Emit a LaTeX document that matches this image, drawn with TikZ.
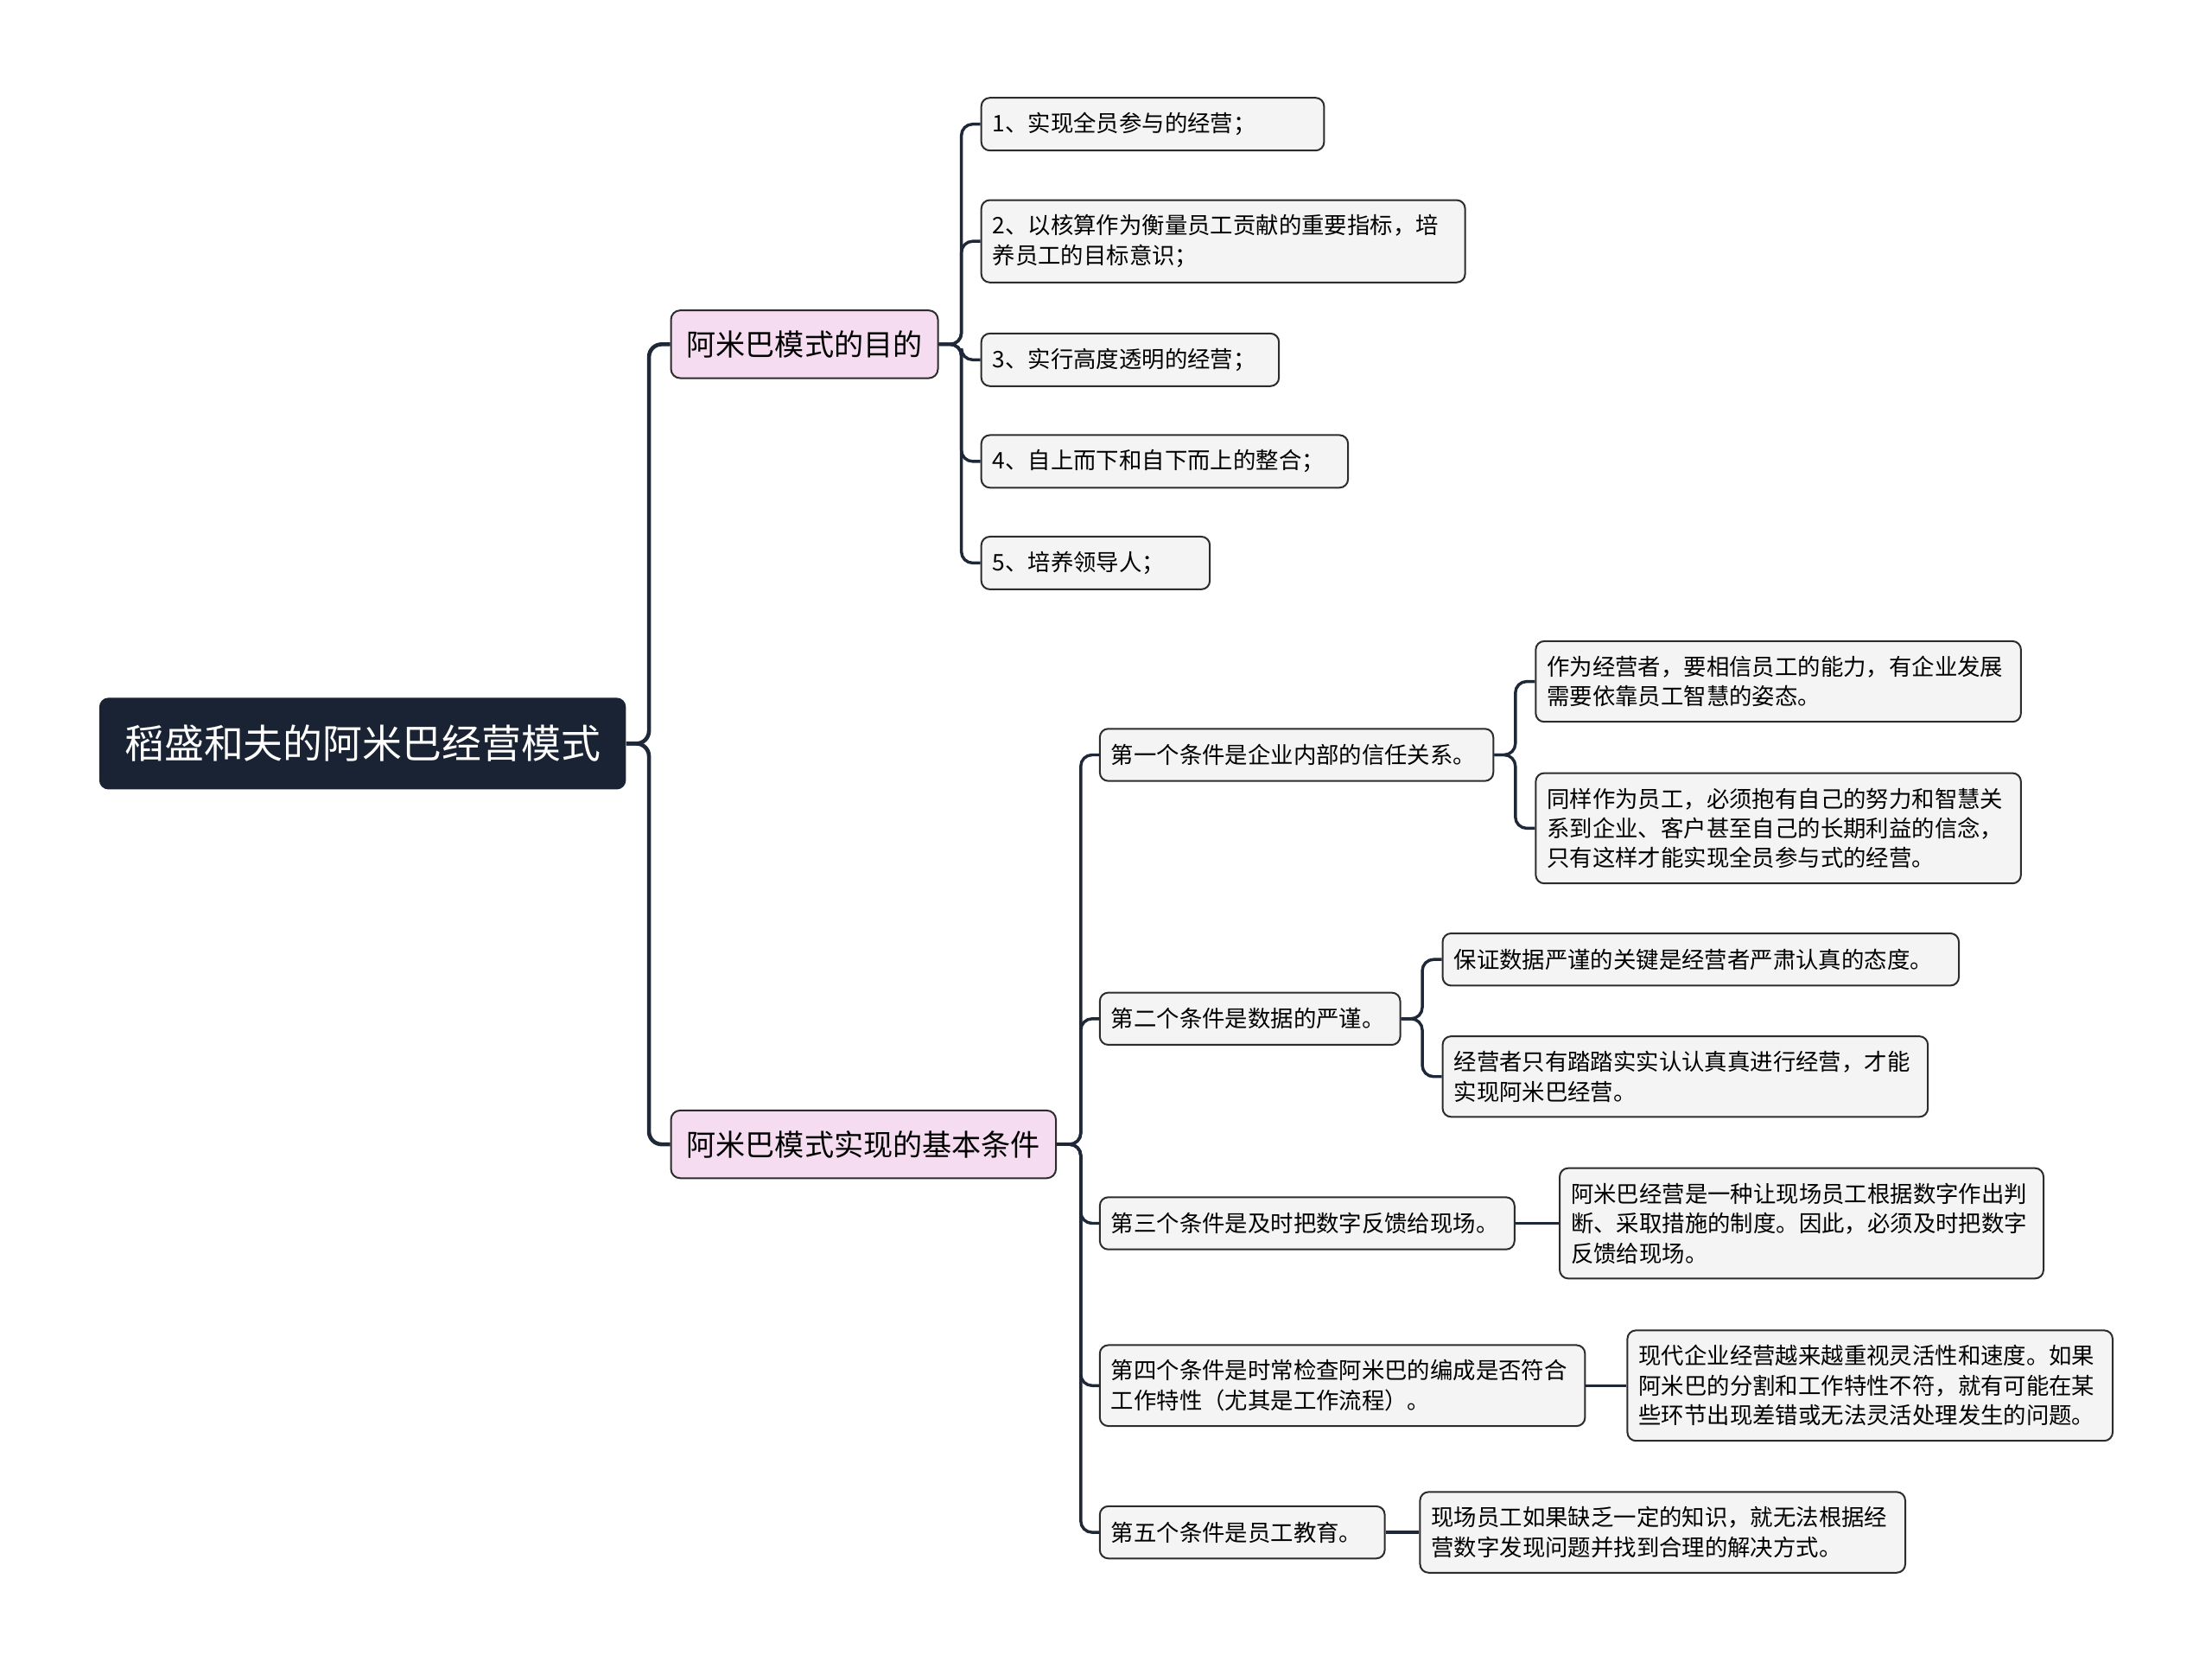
\documentclass[tikz,border=0pt]{standalone}
\usepackage{fontspec}
\setmainfont{Noto Sans CJK SC}
\definecolor{navy}{HTML}{1A2333}
\definecolor{wire}{HTML}{1E2838}
\definecolor{pinkbg}{HTML}{F6DCF0}
\definecolor{leafbg}{HTML}{F4F4F4}
\definecolor{edge}{HTML}{2C2C2C}

\begin{document}
\begin{tikzpicture}[x=0.02cm,y=-0.02cm,
    root/.style={fill=navy,text=white,rounded corners=0.13cm,inner xsep=0.36cm,
      minimum height=1.3cm,font=\fontsize{16pt}{19pt}\selectfont},
    topic/.style={draw=edge,fill=pinkbg,line width=0.7pt,rounded corners=0.13cm,
      inner xsep=0.22cm,minimum height=0.96cm,font=\fontsize{11.9pt}{14pt}\selectfont},
    leaf/.style={draw=edge,fill=leafbg,line width=0.7pt,rounded corners=0.12cm,
      inner xsep=0.16cm,inner ysep=0.21cm,minimum height=0.74cm,align=left,
      text width=#1,font=\fontsize{9.2pt}{12pt}\selectfont},
    trunk/.style={draw=wire,line width=1.6pt,rounded corners=0.18cm},
    branch/.style={draw=wire,line width=1.2pt,rounded corners=0.16cm}]
\useasboundingbox (0,0) rectangle (1568,1186);

% root and main topics
\node[root,anchor=west] (root) at (70,527) {稻盛和夫的阿米巴经营模式};
\node[topic,anchor=west] (A) at (475,244) {阿米巴模式的目的};
\node[topic,anchor=west] (B) at (475,811) {阿米巴模式实现的基本条件};

% purposes
\node[leaf=4.54cm,anchor=west] (a1) at (695,88) {1、实现全员参与的经营；};
\node[leaf=6.54cm,anchor=west] (a2) at (695,171) {2、以核算作为衡量员工贡献的重要指标，培\\养员工的目标意识；};
\node[leaf=3.90cm,anchor=west] (a3) at (695,255) {3、实行高度透明的经营；};
\node[leaf=4.88cm,anchor=west] (a4) at (695,327) {4、自上而下和自下而上的整合；};
\node[leaf=2.92cm,anchor=west] (a5) at (695,399) {5、培养领导人；};

% conditions
\node[leaf=5.26cm,anchor=west] (c1) at (779,535) {第一个条件是企业内部的信任关系。};
\node[leaf=3.94cm,anchor=west] (c2) at (779,722) {第二个条件是数据的严谨。};
\node[leaf=5.56cm,anchor=west] (c3) at (779,867) {第三个条件是及时把数字反馈给现场。};
\node[leaf=6.56cm,anchor=west] (c4) at (779,982) {第四个条件是时常检查阿米巴的编成是否符合\\工作特性（尤其是工作流程）。};
\node[leaf=3.72cm,anchor=west] (c5) at (779,1086) {第五个条件是员工教育。};

% details
\node[leaf=6.56cm,anchor=west] (d11) at (1088,483) {作为经营者，要相信员工的能力，有企业发展\\需要依靠员工智慧的姿态。};
\node[leaf=6.56cm,anchor=west] (d12) at (1088,587) {同样作为员工，必须抱有自己的努力和智慧关\\系到企业、客户甚至自己的长期利益的信念，\\只有这样才能实现全员参与式的经营。};
\node[leaf=7.00cm,anchor=west] (d21) at (1022,680) {保证数据严谨的关键是经营者严肃认真的态度。};
\node[leaf=6.56cm,anchor=west] (d22) at (1022,763) {经营者只有踏踏实实认认真真进行经营，才能\\实现阿米巴经营。};
\node[leaf=6.54cm,anchor=west] (d3) at (1105,867) {阿米巴经营是一种让现场员工根据数字作出判\\断、采取措施的制度。因此，必须及时把数字\\反馈给现场。};
\node[leaf=6.56cm,anchor=west] (d4) at (1153,982) {现代企业经营越来越重视灵活性和速度。如果\\阿米巴的分割和工作特性不符，就有可能在某\\些环节出现差错或无法灵活处理发生的问题。};
\node[leaf=6.56cm,anchor=west] (d5) at (1006,1086) {现场员工如果缺乏一定的知识，就无法根据经\\营数字发现问题并找到合理的解决方式。};

% connectors
\draw[trunk] (root.east) -- ++(16,0) |- (A.west);
\draw[trunk] (root.east) -- ++(16,0) |- (B.west);
\foreach \n in {a1,a2,a3,a4,a5}
  \draw[branch] (A.east) -- ++(16,0) |- (\n.west);
\foreach \n in {c1,c2,c3,c4,c5}
  \draw[branch] (B.east) -- ++(17,0) |- (\n.west);
\foreach \n in {d11,d12}
  \draw[branch] (c1.east) -- ++(15,0) |- (\n.west);
\foreach \n in {d21,d22}
  \draw[branch] (c2.east) -- ++(15,0) |- (\n.west);
\draw[branch] (c3.east) -- (d3.west);
\draw[branch] (c4.east) -- (d4.west);
\draw[branch] (c5.east) -- (d5.west);
\end{tikzpicture}
\end{document}
